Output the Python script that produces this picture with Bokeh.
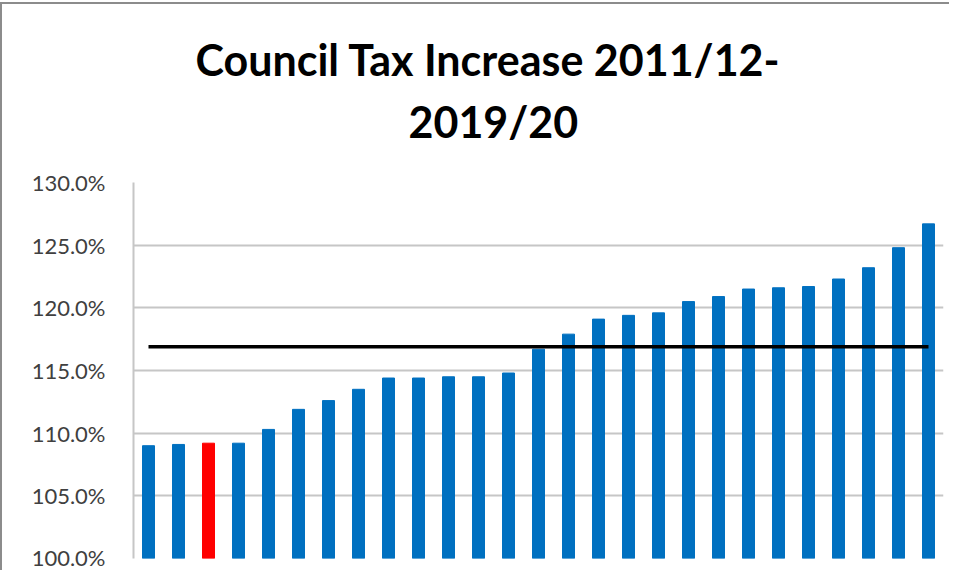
from bokeh.plotting import figure
from bokeh.models import Title, NumeralTickFormatter, FixedTicker, Range1d, FactorRange
from bokeh.embed import file_html
from bokeh.resources import INLINE

# ---- data ----
authorities = [str(i) for i in range(1, 28)]
increase = [1.090, 1.091, 1.092, 1.092, 1.103, 1.119, 1.126, 1.135, 1.144, 1.144,
            1.145, 1.145, 1.148, 1.167, 1.179, 1.191, 1.194, 1.196, 1.205, 1.209,
            1.215, 1.216, 1.217, 1.223, 1.232, 1.248, 1.267]
highlight_index = 2
average = 1.169
y_ticks = [1.00, 1.05, 1.10, 1.15, 1.20, 1.25, 1.30]
title_line1 = "Council Tax Increase 2011/12-"
title_line2 = "2019/20"

BLUE = "#0070C0"
RED = "#FF0000"
colors = [RED if i == highlight_index else BLUE for i in range(len(increase))]

p = figure(x_range=FactorRange(*authorities, range_padding=0.0),
           y_range=Range1d(1.0, 1.30),
           width=949, height=568,
           output_backend="svg", toolbar_location=None,
           min_border_left=131, min_border_right=8,
           min_border_bottom=14, min_border_top=178)
p.title.text = ""

p.styles = {"border-left": "2px solid #8c8c8c", "border-top": "2px solid #8c8c8c",
            "margin-top": "2px"}

p.vbar(x=authorities, top=increase, bottom=1.0, width=0.4, color=colors)
p.line(x=[authorities[0], authorities[-1]], y=[average, average],
       line_color="black", line_width=3.5)

t2 = Title(text=title_line2, align="left", offset=275,
           text_font="Lato", text_font_size="43px", text_font_style="bold",
           text_color="#000000", standoff=72)
t1 = Title(text=title_line1, align="left", offset=62,
           text_font="Lato", text_font_size="43px", text_font_style="bold",
           text_color="#000000", standoff=-55)
p.add_layout(t2, "above")
p.add_layout(t1, "above")

p.xaxis.visible = False
p.xgrid.grid_line_color = None
p.ygrid.grid_line_color = "#c6c6c6"
p.ygrid.grid_line_width = 2
p.ygrid.ticker = FixedTicker(ticks=y_ticks)

ya = p.yaxis[0]
ya.ticker = FixedTicker(ticks=y_ticks)
ya.formatter = NumeralTickFormatter(format="0.0%")
ya.major_tick_line_color = None
ya.minor_tick_line_color = None
ya.axis_line_color = "#c6c6c6"
ya.axis_line_width = 2
ya.major_label_standoff = 22
ya.major_label_text_font = "Lato"
ya.major_label_text_font_size = "22px"
ya.major_label_text_color = "#404040"

p.outline_line_color = None
p.background_fill_color = "white"
p.border_fill_color = "white"

open("out.html", "w").write(file_html(p, INLINE))
